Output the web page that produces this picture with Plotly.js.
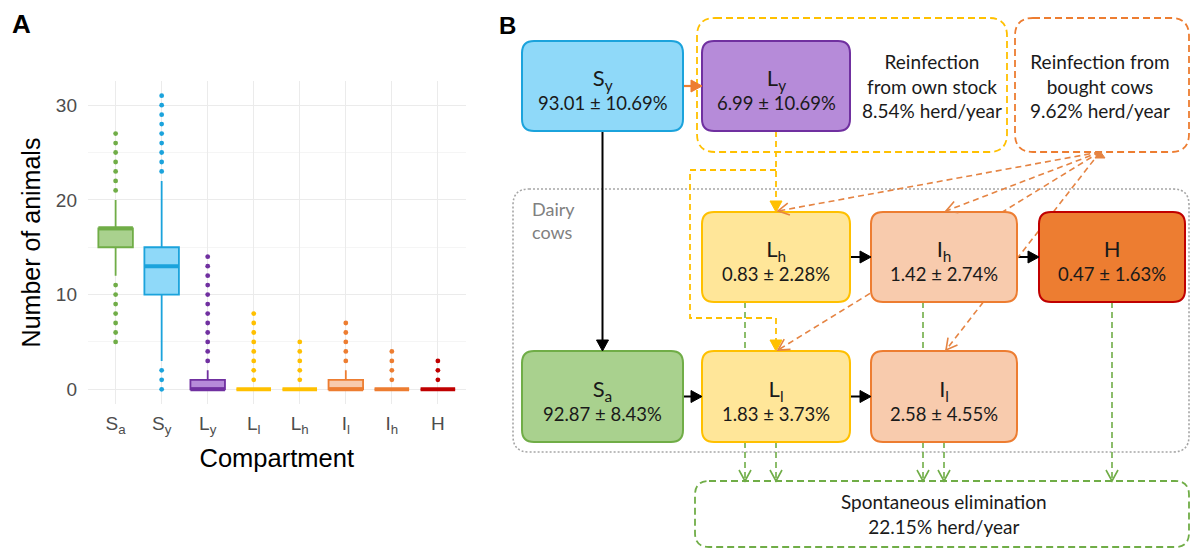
<!DOCTYPE html>
<html><head><meta charset="utf-8">
<script src="https://cdn.plot.ly/plotly-3.0.1.min.js"></script>
<style>html,body{margin:0;padding:0;background:#fff;} #chart{width:1191px;height:551px;}</style>
</head><body><div id="chart"></div>
<script>
// ================= Panel A data (box plot) =================
const compartmentLabels = ['S<sub>a</sub>','S<sub>y</sub>','L<sub>y</sub>','L<sub>l</sub>','L<sub>h</sub>','I<sub>l</sub>','I<sub>h</sub>','H'];
const boxQ1     = [15, 10, 0, 0, 0, 0, 0, 0];
const boxMedian = [17, 13, 0, 0, 0, 0, 0, 0];
const boxQ3     = [17, 15, 1, 0, 0, 1, 0, 0];
const boxLower  = [12,  3, 0, 0, 0, 0, 0, 0];
const boxUpper  = [20, 22, 2, 0, 0, 2, 0, 0];
const outliers  = [
  [5,6,7,8,9,10,11,21,22,23,24,25,26,27],
  [0,1,2,23,24,25,26,27,28,29,30,31],
  [3,4,5,6,7,8,9,10,11,12,13,14],
  [1,2,3,4,5,6,7,8],
  [1,2,3,4,5],
  [3,4,5,6,7],
  [1,2,3,4],
  [1,2,3]
];
const yTickVals = [0, 10, 20, 30];

// ================= Panel B data (flow diagram) =================
const nodeIds   = ['Sy','Ly','Lh','Ih','H','Sa','Ll','Il'];
const nodeNames = ['S<sub>y</sub>','L<sub>y</sub>','L<sub>h</sub>','I<sub>h</sub>','H','S<sub>a</sub>','L<sub>l</sub>','I<sub>l</sub>'];
const nodeMeans = [93.01, 6.99, 0.83, 1.42, 0.47, 92.87, 1.83, 2.58];
const nodeSDs   = [10.69, 10.69, 2.28, 2.74, 1.63, 8.43, 3.73, 4.55];
const reinfOwnRate    = 8.54;
const reinfBoughtRate = 9.62;
const elimRate        = 22.15;

// ================= styles / layout geometry =================
const W = 1191, H = 551;
const fontA = '"Liberation Sans", Arial, Helvetica, sans-serif';
const fontB = 'Lato, Carlito, Calibri, "Open Sans", sans-serif';

const boxLine = ['#70ad47','#1ba3dc','#7030a0','#ffc000','#ffc000','#ed7d31','#ed7d31','#c00000'];
const boxFill = ['#a9d18e','#8fd9f9','#b68bd9','#ffe699','#ffe699','#f8cbad','#f8cbad','#ed7d31'];

// node rectangles in page pixels [x0, y0, x1, y1]
const nodeRect = {
  Sy: [522, 41, 683, 131], Ly: [702, 41, 850, 131],
  Lh: [702, 212, 850, 302], Ih: [871, 212, 1017, 302], H: [1039, 212, 1185, 302],
  Sa: [522, 351, 683, 442], Ll: [702, 351, 850, 442], Il: [871, 351, 1017, 442]
};
const nodeFill = {Sy:'#8fd9f9', Ly:'#b68bd9', Lh:'#ffe699', Ih:'#f8cbad', H:'#ed7d31', Sa:'#a9d18e', Ll:'#ffe699', Il:'#f8cbad'};
const nodeLine = {Sy:'#1ba3dc', Ly:'#7030a0', Lh:'#ffc000', Ih:'#ed7d31', H:'#c00000', Sa:'#70ad47', Ll:'#ffc000', Il:'#ed7d31'};

// ================= Panel A traces =================
const traces = [];
compartmentLabels.forEach((lab, i) => {
  const xp = i + 1;
  traces.push({
    type: 'box', x: [xp], q1: [boxQ1[i]], median: [boxMedian[i]], q3: [boxQ3[i]],
    lowerfence: [boxLower[i]], upperfence: [boxUpper[i]],
    width: 0.75, whiskerwidth: 0, boxpoints: false,
    fillcolor: boxFill[i], line: {color: boxLine[i], width: 1.8},
    hoverinfo: 'skip', showlegend: false, xaxis: 'x', yaxis: 'y'
  });
  traces.push({
    type: 'scatter', mode: 'lines', x: [xp - 0.375, xp + 0.375], y: [boxMedian[i], boxMedian[i]],
    line: {color: boxLine[i], width: 4}, hoverinfo: 'skip', showlegend: false, xaxis: 'x', yaxis: 'y'
  });
  traces.push({
    type: 'scatter', mode: 'markers', x: outliers[i].map(() => xp), y: outliers[i],
    marker: {color: boxLine[i], size: 4.8}, hoverinfo: 'skip', showlegend: false, xaxis: 'x', yaxis: 'y'
  });
});
// empty trace to register the diagram subplot
traces.push({type: 'scatter', x: [], y: [], xaxis: 'x2', yaxis: 'y2', showlegend: false, hoverinfo: 'skip'});

// ================= Panel B shapes =================
function rrect(r, rad) {
  const [x0, y0, x1, y1] = r;
  return `M${x0+rad},${y0} L${x1-rad},${y0} Q${x1},${y0} ${x1},${y0+rad} L${x1},${y1-rad} Q${x1},${y1} ${x1-rad},${y1} ` +
         `L${x0+rad},${y1} Q${x0},${y1} ${x0},${y1-rad} L${x0},${y0+rad} Q${x0},${y0} ${x0+rad},${y0} Z`;
}
function poly(pts) { return pts.map((p, k) => (k ? 'L' : 'M') + p[0] + ',' + p[1]).join(' '); }
function headPts(a, b, len, hw) {
  const dx = b[0]-a[0], dy = b[1]-a[1], L = Math.hypot(dx, dy), ux = dx/L, uy = dy/L;
  const bx = b[0]-ux*len, by = b[1]-uy*len, px = -uy, py = ux;
  return [[bx+px*hw, by+py*hw], b, [bx-px*hw, by-py*hw], [bx, by]];
}
const shapes = [];
function sh(path, color, width, dash, fill) {
  shapes.push({type: 'path', xref: 'x2', yref: 'y2', layer: 'above', path: path,
    fillcolor: fill || 'rgba(0,0,0,0)', line: {color: color, width: width, dash: dash || 'solid'}});
}
function arrowFilled(pts, color, width, dash) {
  const a = pts[pts.length-2], b = pts[pts.length-1];
  const h = headPts(a, b, 11, 6);
  const line = pts.slice(0, -1).concat([h[3]]);
  sh(poly(line), color, width, dash);
  return () => sh(poly([h[0], h[1], h[2]]) + ' Z', color, 1, 'solid', color);
}
function arrowOpen(pts, color, width, dash) {
  const a = pts[pts.length-2], b = pts[pts.length-1];
  const h = headPts(a, b, 11, 6);
  sh(poly(pts), color, width, dash);
  return () => sh(poly([h[0], h[1], h[2]]), color, width, 'solid');
}
const cx = id => (nodeRect[id][0] + nodeRect[id][2]) / 2;
const cy = id => (nodeRect[id][1] + nodeRect[id][3]) / 2;
const R = nodeRect;

// background groups
sh(rrect([513, 189, 1189, 452], 16), '#a6a6a6', 1.6, '2px,2px');
sh(rrect([697, 18, 1007, 152], 18), '#ffc000', 1.8, '7px,4px');
sh(rrect([1015, 18, 1189, 152], 18), '#ed7d31', 1.8, '7px,4px');
sh(rrect([695, 481, 1189, 547], 14), '#70ad47', 1.8, '7px,4px');

const heads = [];
const yel = '#ffc000', org = '#e58443', grn = '#70ad47';
// black / orange transitions
heads.push(arrowFilled([[R.Sy[2], cy('Sy')], [R.Ly[0], cy('Sy')]], '#ed7d31', 2.2));
heads.push(arrowFilled([[cx('Sy'), R.Sy[3]], [cx('Sy'), R.Sa[1]]], '#000', 2));
heads.push(arrowFilled([[R.Sa[2], cy('Sa')], [R.Ll[0], cy('Sa')]], '#000', 2));
heads.push(arrowFilled([[R.Ll[2], cy('Ll')], [R.Il[0], cy('Ll')]], '#000', 2));
heads.push(arrowFilled([[R.Lh[2], cy('Lh')], [R.Ih[0], cy('Lh')]], '#000', 2));
heads.push(arrowFilled([[R.Ih[2], cy('Ih')], [R.H[0], cy('Ih')]], '#000', 2));
// own stock reinfection (yellow dashed)
heads.push(arrowFilled([[cx('Ly'), R.Ly[3]], [cx('Ly'), R.Lh[1]]], yel, 1.8, '6px,4px'));
heads.push(arrowFilled([[cx('Ly'), 170], [690, 170], [690, 318], [cx('Ll'), 318], [cx('Ll'), R.Ll[1]]], yel, 1.8, '6px,4px'));
// bought cows reinfection (orange dashed)
const src = [1100, 152];
heads.push(arrowOpen([src, [cx('Lh') + 2, R.Lh[1] - 1]], org, 1.6, '6px,4px'));
heads.push(arrowOpen([src, [cx('Ih') + 2, R.Ih[1] - 1]], org, 1.6, '6px,4px'));
heads.push(arrowOpen([src, [cx('Ll') + 2, R.Ll[1] - 1]], org, 1.6, '6px,4px'));
heads.push(arrowOpen([src, [cx('Il') + 2, R.Il[1] - 1]], org, 1.6, '6px,4px'));
heads.push(() => sh(poly([[src[0] - 5, src[1] + 6], [src[0], src[1] - 1], [src[0] + 5, src[1] + 6]]) + ' Z', org, 1, 'solid', org));
// spontaneous elimination (green dashed)
const elimTop = 481;
heads.push(arrowOpen([[745, R.Lh[3]], [745, elimTop]], grn, 1.6, '6px,4px'));
heads.push(arrowOpen([[cx('Ll'), R.Ll[3]], [cx('Ll'), elimTop]], grn, 1.6, '6px,4px'));
heads.push(arrowOpen([[923, R.Ih[3]], [923, elimTop]], grn, 1.6, '6px,4px'));
heads.push(arrowOpen([[cx('Il'), R.Il[3]], [cx('Il'), elimTop]], grn, 1.6, '6px,4px'));
heads.push(arrowOpen([[cx('H'), R.H[3]], [cx('H'), elimTop]], grn, 1.6, '6px,4px'));

// compartment boxes
nodeIds.forEach(id => sh(rrect(R[id], 12), nodeLine[id], 2, 'solid', nodeFill[id]));
heads.forEach(f => f());

// ================= annotations =================
const annotations = [];
function ann(x, y, text, size, color, extra) {
  annotations.push(Object.assign({xref: 'x2', yref: 'y2', x: x, y: y, text: text, showarrow: false,
    font: {family: fontB, size: size, color: color || '#1a1a1a'}, xanchor: 'center', yanchor: 'middle', align: 'center'}, extra || {}));
}
nodeIds.forEach((id, i) => {
  const txt = '<span style="font-size:22px">' + nodeNames[i] + '</span><br>' +
              nodeMeans[i].toFixed(2) + ' ± ' + nodeSDs[i].toFixed(2) + '%';
  ann(cx(id), cy(id) + 3, txt, 18.5);
});
ann(932, 86, 'Reinfection<br>from own stock<br>' + reinfOwnRate.toFixed(2) + '% herd/year', 19);
ann(1100, 86, 'Reinfection from<br>bought cows<br>' + reinfBoughtRate.toFixed(2) + '% herd/year', 19);
ann(530, 220, 'Dairy<br>cows', 18, '#808080', {xanchor: 'left', align: 'left'});
ann(944, 514, 'Spontaneous elimination<br>' + elimRate.toFixed(2) + '% herd/year', 19);
// panel letters
annotations.push({xref: 'paper', yref: 'paper', x: 21 / W, y: 1 - 23.5 / H, text: '<b>A</b>', showarrow: false,
  font: {family: fontA, size: 26, color: '#000'}, xanchor: 'center', yanchor: 'middle'});
annotations.push({xref: 'paper', yref: 'paper', x: 507 / W, y: 1 - 25 / H, text: '<b>B</b>', showarrow: false,
  font: {family: fontA, size: 24, color: '#000'}, xanchor: 'center', yanchor: 'middle'});

const layout = {
  width: W, height: H, margin: {l: 0, r: 0, t: 0, b: 0, pad: 0},
  paper_bgcolor: '#ffffff', plot_bgcolor: 'rgba(0,0,0,0)', showlegend: false,
  xaxis: {
    domain: [88 / W, 465.5 / W], range: [0.4, 8.6], tickmode: 'array',
    tickvals: compartmentLabels.map((_, i) => i + 1), ticktext: compartmentLabels,
    showgrid: true, gridcolor: '#ebebeb', gridwidth: 1.1, zeroline: false, showline: false,
    ticks: '', ticklabelstandoff: 6, tickfont: {family: fontA, size: 19, color: '#4d4d4d'},
    title: {text: 'Compartment', font: {family: fontA, size: 25.5, color: '#000'}, standoff: 13},
    anchor: 'y', fixedrange: true
  },
  yaxis: {
    domain: [(H - 404) / H, (H - 81) / H], range: [-1.55, 32.55], tickmode: 'array', tickvals: yTickVals,
    showgrid: true, gridcolor: '#ebebeb', gridwidth: 1.1, zeroline: false, showline: false,
    minor: {tickmode: 'array', tickvals: [5, 15, 25], showgrid: true, gridcolor: '#f2f2f2', gridwidth: 0.8, ticks: ''},
    ticks: '', ticklabelstandoff: 10, tickfont: {family: fontA, size: 19, color: '#4d4d4d'},
    title: {text: 'Number of animals', font: {family: fontA, size: 25, color: '#000'}, standoff: 8},
    anchor: 'x', fixedrange: true
  },
  xaxis2: {domain: [0, 1], range: [0, W], visible: false, anchor: 'y2', fixedrange: true},
  yaxis2: {domain: [0, 1], range: [H, 0], visible: false, anchor: 'x2', fixedrange: true},
  shapes: shapes, annotations: annotations
};
Plotly.newPlot('chart', traces, layout, {displayModeBar: false, staticPlot: true}).then(gd => {
  // tidy Plotly's zero-width-space helpers around subscripts
  const ZW = /^[\u200b\s]*$/;
  gd.querySelectorAll('tspan').forEach(t => {
    if (ZW.test(t.textContent) && !t.querySelector('tspan')) { t.remove(); return; }
    const fs = t.style.fontSize;
    if (fs && fs.indexOf('%') > -1) {
      const base = parseFloat(getComputedStyle(t.parentNode).fontSize);
      t.style.fontSize = (base * parseFloat(fs) / 100).toFixed(1) + 'px';
    }
  });
  const walker = document.createTreeWalker(gd, NodeFilter.SHOW_TEXT);
  const dead = [];
  while (walker.nextNode()) {
    const n = walker.currentNode;
    if (n.data.indexOf('\u200b') > -1) {
      n.data = n.data.replace(/\u200b/g, '');
      if (!n.data.length) dead.push(n);
    }
  }
  dead.forEach(n => n.remove());
});
</script>
</body></html>
